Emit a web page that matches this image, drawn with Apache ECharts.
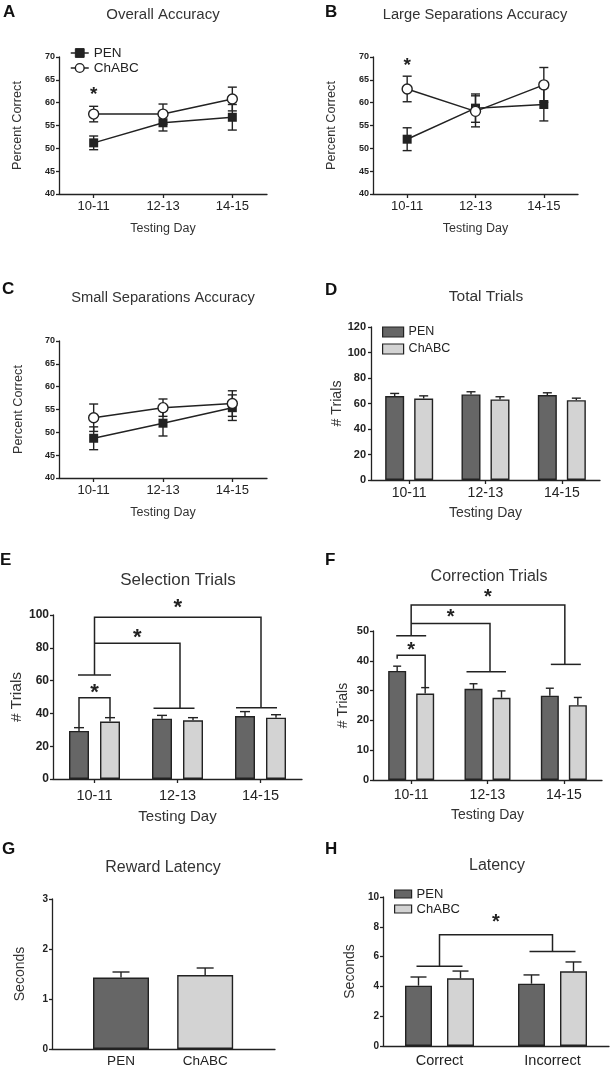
<!DOCTYPE html>
<html>
<head>
<meta charset="utf-8">
<script src="https://cdn.jsdelivr.net/npm/echarts@6/dist/echarts.min.js"></script>
<style>
  html, body { margin: 0; padding: 0; background: #fff; }
  #chart { width: 611px; height: 1070px; }
</style>
</head>
<body>
<div id="chart"></div>
<script>
// ---- data ----
const days = ['10-11', '12-13', '14-15']
const groups = ['PEN', 'ChABC']
const outcomes = ['Correct', 'Incorrect']

const overallPen = [51.2, 55.6, 56.8]
const overallPenSem = [1.5, 1.8, 2.8]
const overallChabc = [57.5, 57.5, 60.8]
const overallChabcSem = [1.7, 2.2, 2.6]

const largePen = [52.0, 58.8, 59.6]
const largePenSem = [2.5, 3.1, 3.6]
const largeChabc = [63.0, 58.1, 63.9]
const largeChabcSem = [2.8, 3.4, 3.8]

const smallPen = [48.7, 52.0, 55.4]
const smallPenSem = [2.5, 2.8, 2.8]
const smallChabc = [53.2, 55.4, 56.3]
const smallChabcSem = [3.0, 1.9, 2.8]

const totalPen = [65.8, 67.1, 66.6]
const totalPenSem = [2.1, 2.1, 1.8]
const totalChabc = [63.9, 63.2, 62.6]
const totalChabcSem = [2.1, 2.1, 1.6]

const selectionPen = [29.3, 36.8, 38.4]
const selectionPenSem = [2.0, 2.0, 2.7]
const selectionChabc = [35.0, 35.8, 37.4]
const selectionChabcSem = [2.4, 1.6, 1.8]

const correctionPen = [36.6, 30.6, 28.3]
const correctionPenSem = [1.6, 1.7, 2.5]
const correctionChabc = [29.0, 27.6, 25.1]
const correctionChabcSem = [2.0, 2.3, 2.6]

const rewardLatency = [1.43, 1.48]
const rewardLatencySem = [0.11, 0.14]

const latencyPen = [4.05, 4.18]
const latencyPenSem = [0.58, 0.59]
const latencyChabc = [4.54, 5.01]
const latencyChabcSem = [0.49, 0.63]

// ---- styling ----
const FONT = '"Liberation Sans", Arial, Helvetica, sans-serif'
const INK = '#222'
const PEN_FILL = '#666666'
const CH_FILL = '#d3d3d3'

const grid = [], xAxis = [], yAxis = [], series = [], title = [], legend = []

function panel(box, x, y) {
  const gi = grid.length
  grid.push(Object.assign({ containLabel: false }, box))
  xAxis.push(Object.assign({ gridIndex: gi }, x))
  yAxis.push(Object.assign({ gridIndex: gi }, y))
  return gi
}

function nameStyle(fs) {
  return { color: '#333', fontFamily: FONT, fontSize: fs }
}

function catAxis(data, o) {
  return {
    type: 'category', data,
    axisLine: { lineStyle: { color: INK, width: 1.3 } },
    axisTick: { show: o.tick !== false, alignWithLabel: true, length: 4, lineStyle: { color: INK, width: 1.3 } },
    axisLabel: { color: INK, fontFamily: FONT, fontSize: o.fs, margin: o.margin },
    name: o.name, nameLocation: 'middle', nameGap: o.gap, nameTextStyle: nameStyle(o.nfs)
  }
}

function valAxis(min, max, interval, o) {
  return {
    type: 'value', min, max, interval,
    axisLine: { show: true, onZero: false, lineStyle: { color: INK, width: 1.3 } },
    axisTick: { show: true, length: 3, lineStyle: { color: INK, width: 1.3 } },
    axisLabel: { color: INK, fontFamily: FONT, fontWeight: 'bold', fontSize: o.fs, margin: o.margin },
    splitLine: { show: false },
    name: o.name, nameLocation: 'middle', nameGap: o.gap, nameTextStyle: nameStyle(o.nfs)
  }
}

function text(str, cx, cy, fs, bold, align) {
  title.push({
    text: str, left: cx, top: cy - fs / 2, padding: 0,
    textAlign: align || 'center',
    textStyle: { fontFamily: FONT, fontSize: fs, fontWeight: bold ? 'bold' : 'normal', color: bold ? '#111' : '#333' }
  })
}

function errorBars(gi, means, sems, dx, both, cap) {
  return {
    type: 'custom', xAxisIndex: gi, yAxisIndex: gi, z: 2, silent: true,
    data: means.map((m, i) => [i, m, sems[i]]),
    encode: { x: 0, y: 1 },
    renderItem(params, api) {
      const i = api.value(0), m = api.value(1), s = api.value(2)
      const hi = api.coord([i, m + s])
      const lo = api.coord([i, both ? m - s : m])
      const x = hi[0] + dx
      const st = { stroke: INK, lineWidth: 1.4 }
      const kids = [
        { type: 'line', shape: { x1: x, y1: hi[1], x2: x, y2: lo[1] }, style: st },
        { type: 'line', shape: { x1: x - cap / 2, y1: hi[1], x2: x + cap / 2, y2: hi[1] }, style: st }
      ]
      if (both) kids.push({ type: 'line', shape: { x1: x - cap / 2, y1: lo[1], x2: x + cap / 2, y2: lo[1] }, style: st })
      return { type: 'group', children: kids }
    }
  }
}

// brackets: points are [category, pixel shift, value]; stars: [catA, shiftA, catB, shiftB, value]
function annotations(gi, paths, stars, starSize) {
  const items = paths.map(p => ({ kind: 'path', p })).concat(stars.map(s => ({ kind: 'star', p: s })))
  return {
    type: 'custom', xAxisIndex: gi, yAxisIndex: gi, z: 6, silent: true,
    data: items.map(() => [0, 0]),
    encode: { x: 0, y: 1 },
    renderItem(params, api) {
      const it = items[params.dataIndex]
      const at = (c, dx, v) => { const q = api.coord([c, v]); return [q[0] + dx, q[1]] }
      if (it.kind === 'path') {
        return {
          type: 'polyline',
          shape: { points: it.p.map(q => at(q[0], q[1], q[2])) },
          style: { stroke: INK, lineWidth: 1.5, fill: 'none' }
        }
      }
      const s = it.p
      const a = at(s[0], s[1], s[4]), b = at(s[2], s[3], s[4])
      return {
        type: 'text', x: (a[0] + b[0]) / 2, y: a[1] + starSize * 0.22,
        style: { text: '*', fontFamily: FONT, fontSize: starSize, fontWeight: 'bold', fill: INK, align: 'center', verticalAlign: 'middle' }
      }
    }
  }
}

function lineGroup(gi, pen, penSem, ch, chSem) {
  series.push(errorBars(gi, pen, penSem, 0, true, 9))
  series.push(errorBars(gi, ch, chSem, 0, true, 9))
  series.push({
    type: 'line', name: 'PEN', xAxisIndex: gi, yAxisIndex: gi, data: pen, z: 3,
    symbol: 'rect', symbolSize: 9,
    itemStyle: { color: INK }, lineStyle: { color: INK, width: 1.5 }
  })
  series.push({
    type: 'line', name: 'ChABC', xAxisIndex: gi, yAxisIndex: gi, data: ch, z: 4,
    symbol: 'circle', symbolSize: 10,
    itemStyle: { color: '#fff', borderColor: INK, borderWidth: 1.4 }, lineStyle: { color: INK, width: 1.5 }
  })
}

function barGroup(gi, pen, penSem, ch, chSem, bw, gap, cap) {
  const off = (bw + gap) / 2
  series.push({
    type: 'bar', name: 'PEN', xAxisIndex: gi, yAxisIndex: gi, data: pen,
    barWidth: bw, barGap: (gap / bw * 100) + '%',
    itemStyle: { color: PEN_FILL, borderColor: INK, borderWidth: 1.4 }
  })
  series.push({
    type: 'bar', name: 'ChABC', xAxisIndex: gi, yAxisIndex: gi, data: ch,
    barWidth: bw, barGap: (gap / bw * 100) + '%',
    itemStyle: { color: CH_FILL, borderColor: INK, borderWidth: 1.4 }
  })
  series.push(errorBars(gi, pen, penSem, -off, false, cap))
  series.push(errorBars(gi, ch, chSem, off, false, cap))
  return off
}

function legendRow(name, left, cy, opt) {
  legend.push({
    data: [Object.assign({ name }, opt.item)],
    left, top: cy - 7, padding: 0, itemGap: 0,
    itemWidth: opt.w, itemHeight: opt.h, selectedMode: false,
    textStyle: { fontFamily: FONT, fontSize: opt.fs, color: INK, lineHeight: 14 }
  })
}

const accuracyY = o => valAxis(40, 70, 5, Object.assign({ fs: 9, margin: 4, name: 'Percent Correct', nfs: 12.7, gap: 35 }, o))
const dayX = o => catAxis(days, Object.assign({ fs: 13, margin: 6, name: 'Testing Day', nfs: 12.5, gap: 28 }, o))

// A
let g = panel({ left: 59, top: 57, width: 208, height: 137 }, dayX({}), accuracyY({}))
lineGroup(g, overallPen, overallPenSem, overallChabc, overallChabcSem)
series.push(annotations(g, [], [[0, 0, 0, 0, 62.7]], 19))
text('A', 3, 12, 17, true, 'left')
text('Overall Accuracy', 163, 15, 15)
const lineLegend = { w: 18, h: 11, fs: 13.5 }
legendRow('PEN', 70, 53, Object.assign({ item: { itemStyle: { color: INK, borderColor: INK, borderWidth: 1 }, lineStyle: { color: INK, width: 1.5 } } }, lineLegend))
legendRow('ChABC', 70, 68, Object.assign({ item: { itemStyle: { color: '#fff', borderColor: INK, borderWidth: 1.4 }, lineStyle: { color: INK, width: 1.5 } } }, lineLegend))

// B
g = panel({ left: 373, top: 57, width: 205, height: 137 }, dayX({}), accuracyY({}))
lineGroup(g, largePen, largePenSem, largeChabc, largeChabcSem)
series.push(annotations(g, [], [[0, 0, 0, 0, 69.0]], 19))
text('B', 325, 12, 17, true, 'left')
text('Large Separations Accuracy', 475, 15, 14.7)

// C
g = panel({ left: 59, top: 341, width: 208, height: 137 }, dayX({}), accuracyY({ gap: 34 }))
lineGroup(g, smallPen, smallPenSem, smallChabc, smallChabcSem)
text('C', 2, 289, 17, true, 'left')
text('Small Separations Accuracy', 163, 298, 14.7)

// D
g = panel({ left: 371, top: 327, width: 229, height: 153 },
  dayX({ fs: 14, margin: 6, nfs: 14, gap: 26 }),
  valAxis(0, 120, 20, { fs: 11, margin: 5, name: '# Trials', nfs: 14.2, gap: 25 }))
barGroup(g, totalPen, totalPenSem, totalChabc, totalChabcSem, 19, 10, 9)
text('D', 325, 290, 17, true, 'left')
text('Total Trials', 486, 296, 15.5)
const barPen = { itemStyle: { color: PEN_FILL, borderColor: INK, borderWidth: 1.2 }, icon: 'rect' }
const barCh = { itemStyle: { color: CH_FILL, borderColor: INK, borderWidth: 1.2 }, icon: 'rect' }
legendRow('PEN', 382, 332, { item: barPen, w: 21, h: 10, fs: 12.5 })
legendRow('ChABC', 382, 349, { item: barCh, w: 21, h: 10, fs: 12.5 })

// E
g = panel({ left: 53, top: 615, width: 249, height: 164 },
  dayX({ fs: 14.5, margin: 9, nfs: 15, gap: 30 }),
  valAxis(0, 100, 20, { fs: 12, margin: 4, name: '# Trials', nfs: 15.5, gap: 24 }))
let off = barGroup(g, selectionPen, selectionPenSem, selectionChabc, selectionChabcSem, 20, 11, 10)
series.push(annotations(g, [
  [[0, -off, selectionPen[0] + selectionPenSem[0]], [0, -off, 49.6], [0, off, 49.6], [0, off, selectionChabc[0] + selectionChabcSem[0]]],
  [[0, -16.5, 63.4], [0, 16.5, 63.4]],
  [[0, 0, 63.4], [0, 0, 98.6], [2, 0.5, 98.6], [2, 0.5, 43.5]],
  [[0, 0, 82.7], [1, 2.5, 82.7], [1, 2.5, 43.1]],
  [[1, -24, 43.1], [1, 17, 43.1]],
  [[2, -24.5, 43.5], [2, 16.5, 43.5]]
], [[0, 0, 0, 0, 55.3], [0, 0, 1, 2.5, 89.2], [0, 0, 2, 0.5, 107.1]], 22))
text('E', 0, 560, 17, true, 'left')
text('Selection Trials', 178, 580, 17)

// F
g = panel({ left: 373, top: 631, width: 229, height: 149 },
  dayX({ fs: 14, margin: 8, nfs: 14, gap: 28 }),
  valAxis(0, 50, 10, { fs: 11, margin: 4, name: '# Trials', nfs: 14, gap: 23 }))
off = barGroup(g, correctionPen, correctionPenSem, correctionChabc, correctionChabcSem, 18, 10, 8)
series.push(annotations(g, [
  [[0, -off, 40.7], [0, -off, 41.9], [0, off, 41.9], [0, off, correctionChabc[0] + correctionChabcSem[0]]],
  [[0, -15, 48.4], [0, 15, 48.4]],
  [[0, 0, 48.4], [0, 0, 58.7], [2, 1, 58.7], [2, 1, 38.8]],
  [[0, 0, 52.5], [1, 2.5, 52.5], [1, 2.5, 36.3]],
  [[1, -21, 36.3], [1, 18.5, 36.3]],
  [[2, -13, 38.8], [2, 17, 38.8]]
], [[0, 0, 0, 0, 44.9], [0, 0, 1, 2.5, 56.1], [0, 0, 2, 1, 62.8]], 20))
text('F', 325, 560, 17, true, 'left')
text('Correction Trials', 489, 577, 16)

// G (bars placed on a value axis so they sit where the figure has them)
g = panel({ left: 52, top: 899, width: 223, height: 150 },
  {
    type: 'value', min: -0.82, max: 1.83,
    axisLine: { show: true, onZero: false, lineStyle: { color: INK, width: 1.3 } },
    axisTick: { show: false }, splitLine: { show: false },
    axisLabel: { customValues: [0, 1], formatter: v => groups[Math.round(v)], color: INK, fontFamily: FONT, fontSize: 13.5, margin: 5 }
  },
  valAxis(0, 3, 1, { fs: 10, margin: 4, name: 'Seconds', nfs: 14, gap: 24.5 }))
series.push({
  type: 'bar', xAxisIndex: g, yAxisIndex: g, barWidth: 56,
  data: rewardLatency.map((v, i) => ({
    value: [i, v],
    itemStyle: { color: i === 0 ? PEN_FILL : CH_FILL, borderColor: INK, borderWidth: 1.4 }
  }))
})
series.push(errorBars(g, rewardLatency, rewardLatencySem, 0, false, 17))
text('G', 2, 849, 17, true, 'left')
text('Reward Latency', 163, 868, 16)

// H
g = panel({ left: 383, top: 897, width: 226, height: 149 },
  catAxis(outcomes, { fs: 14.5, margin: 7, tick: false }),
  valAxis(0, 10, 2, { fs: 10, margin: 4, name: 'Seconds', nfs: 14, gap: 26 }))
off = barGroup(g, latencyPen, latencyPenSem, latencyChabc, latencyChabcSem, 27, 15, 16)
series.push(annotations(g, [
  [[0, -23, 5.35], [0, 23, 5.35]],
  [[0, 0, 5.35], [0, 0, 7.47], [1, 0, 7.47], [1, 0, 6.35]],
  [[1, -23, 6.35], [1, 23, 6.35]]
], [[0, 0, 1, 0, 8.6]], 20))
text('H', 325, 849, 17, true, 'left')
text('Latency', 497, 866, 16)
legendRow('PEN', 394, 894, { item: barPen, w: 17, h: 8, fs: 13 })
legendRow('ChABC', 394, 909, { item: barCh, w: 17, h: 8, fs: 13 })

const chart = echarts.init(document.getElementById('chart'), null, { renderer: 'canvas' })
chart.setOption({
  animation: false,
  backgroundColor: '#fff',
  textStyle: { fontFamily: FONT },
  title, legend, grid, xAxis, yAxis, series
})
</script>
</body>
</html>
